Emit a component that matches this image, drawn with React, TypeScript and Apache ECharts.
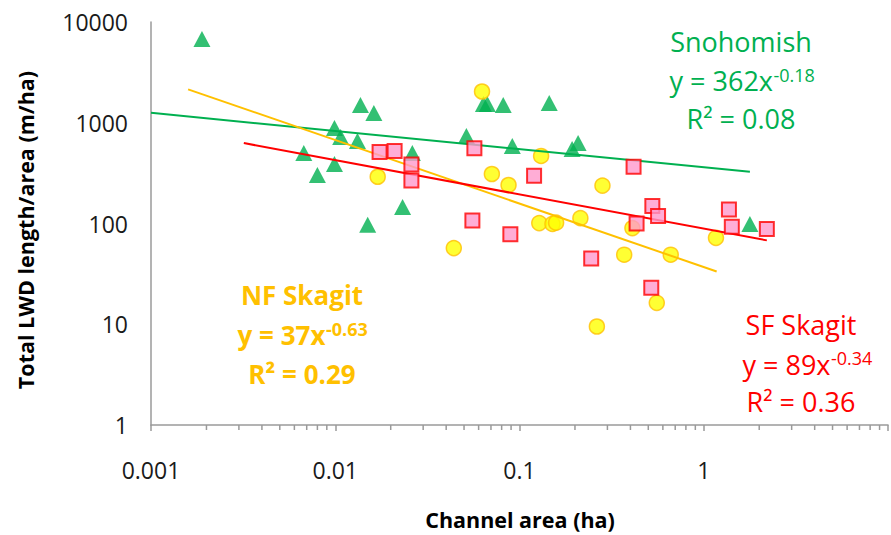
import React, { useEffect, useRef } from 'react';
import * as echarts from 'echarts';

// Snohomish (green triangles)
const snohomishX = [0.00189, 0.0137, 0.0162, 0.0099, 0.0107, 0.0132, 0.00675, 0.0099, 0.008, 0.0262, 0.0232, 0.015, 0.0637, 0.0669, 0.0816, 0.145, 0.0515, 0.0914, 0.193, 0.208, 1.78];
const snohomishY = [6780, 1500, 1250, 887, 722, 659, 501, 390, 303, 501, 146, 97, 1535, 1535, 1500, 1570, 739, 588, 549, 630, 99];

// SF Skagit (pink squares)
const sfX = [0.0174, 0.021, 0.0259, 0.0259, 0.0569, 0.0555, 0.0892, 0.12, 0.416, 0.245, 0.432, 0.526, 0.565, 0.519, 1.37, 1.42, 2.2];
const sfY = [512, 524, 385, 267, 558, 107, 78, 298, 366, 45, 100, 149, 119, 23, 138, 93, 88];

// NF Skagit (yellow circles)
const nfX = [0.017, 0.0626, 0.0708, 0.0872, 0.131, 0.282, 0.044, 0.128, 0.151, 0.158, 0.214, 0.37, 0.41, 0.662, 0.556, 0.263, 1.165];
const nfY = [291, 2043, 310, 241, 468, 238, 57, 101, 99, 102, 113, 49, 90, 49, 16.3, 9.5, 72];

// Power-law trendline end points
const snohomishTrendX = [0.001, 1.78];
const snohomishTrendY = [1255, 326];
const sfTrendX = [0.00319, 2.2];
const sfTrendY = [628, 68];
const nfTrendX = [0.00159, 1.175];
const nfTrendY = [2145, 33.4];

// Axis tick labels
const xTickText = ['0.001', '0.01', '0.1', '1', ''];
const yTickText = ['1', '10', '100', '1000', '10000'];
const xDecades = [0.001, 0.01, 0.1, 1];
const minorMultipliers = [2, 3, 4, 5, 6, 7, 8, 9];

const xTitle = 'Channel area (ha)';
const yTitle = 'Total LWD length/area (m/ha)';

const pairs = (xs: number[], ys: number[]) => xs.map((x, i) => [x, ys[i]]);

const FONT = '"Open Sans", "Noto Sans", sans-serif';
const GREEN = '#00B050';
const RED = '#FF0000';
const ORANGE = '#FFC000';

function txt(text: string, x: number, y: number, color: string, size: number, bold: boolean, align: string) {
  return {
    type: 'text',
    x,
    y,
    z: 100,
    style: {
      text,
      fill: color,
      fontSize: size,
      fontFamily: FONT,
      fontWeight: bold ? 'bold' : 'normal',
      align,
      verticalAlign: 'middle',
    },
  };
}

export default function App() {
  const ref = useRef<HTMLDivElement>(null);
  useEffect(() => {
    const chart = echarts.init(ref.current!, null, { renderer: 'svg' });
    const minorTicks: number[][] = [];
    xDecades.forEach((d) => minorMultipliers.forEach((m) => minorTicks.push([d * m, 1])));

    const option = {
      animation: false,
      grid: { left: 151, top: 22, right: 1.5, bottom: 110, containLabel: false },
      xAxis: {
        type: 'log',
        logBase: 10,
        min: 0.001,
        max: 10,
        axisLine: { show: true, lineStyle: { color: '#9a9a9a', width: 1.5 } },
        axisTick: { show: true, length: 6, lineStyle: { color: '#9a9a9a', width: 1.5 } },
        splitLine: { show: false },
        axisLabel: {
          margin: 33,
          fontSize: 23,
          fontFamily: FONT,
          color: '#1a1a1a',
          formatter: (v: number) => {
            const e = Math.round(Math.log10(v));
            return xTickText[e + 3] ?? '';
          },
        },
      },
      yAxis: {
        type: 'log',
        logBase: 10,
        min: 1,
        max: 10000,
        axisLine: { show: true, lineStyle: { color: '#9a9a9a', width: 1.5 } },
        axisTick: { show: false },
        splitLine: { show: false },
        axisLabel: {
          margin: 23,
          fontSize: 23,
          fontFamily: FONT,
          color: '#1a1a1a',
          formatter: (v: number) => {
            const e = Math.round(Math.log10(v));
            return yTickText[e] ?? '';
          },
        },
      },
      series: [
        {
          type: 'custom',
          clip: false,
          silent: true,
          data: minorTicks,
          renderItem: (_p: any, api: any) => {
            const pt = api.coord([api.value(0), api.value(1)]);
            return {
              type: 'line',
              shape: { x1: pt[0], y1: pt[1], x2: pt[0], y2: pt[1] + 5 },
              style: { stroke: '#9a9a9a', lineWidth: 1.5 },
            };
          },
          z: 1,
        },
        {
          name: 'Snohomish',
          type: 'scatter',
          data: pairs(snohomishX, snohomishY),
          symbol: 'triangle',
          symbolSize: [17, 16],
          itemStyle: { color: GREEN },
          z: 2,
        },
        {
          name: 'NF Skagit',
          type: 'scatter',
          data: pairs(nfX, nfY),
          symbol: 'circle',
          symbolSize: 15,
          itemStyle: { color: '#FFFF00', borderColor: ORANGE, borderWidth: 1.5 },
          z: 3,
        },
        {
          name: 'Snohomish trend',
          type: 'line',
          data: pairs(snohomishTrendX, snohomishTrendY),
          showSymbol: false,
          symbol: 'none',
          lineStyle: { color: GREEN, width: 2 },
          z: 4,
        },
        {
          name: 'NF Skagit trend',
          type: 'line',
          data: pairs(nfTrendX, nfTrendY),
          showSymbol: false,
          symbol: 'none',
          lineStyle: { color: ORANGE, width: 2 },
          z: 4,
        },
        {
          name: 'SF Skagit trend',
          type: 'line',
          data: pairs(sfTrendX, sfTrendY),
          showSymbol: false,
          symbol: 'none',
          lineStyle: { color: RED, width: 2 },
          z: 4,
        },
        {
          name: 'SF Skagit',
          type: 'scatter',
          data: pairs(sfX, sfY),
          symbol: 'rect',
          symbolSize: 14,
          itemStyle: { color: '#FF99CC', borderColor: RED, borderWidth: 2 },
          z: 5,
        },
      ],
      graphic: [
        // Snohomish annotation
        txt('Snohomish', 741, 41.5, GREEN, 27, false, 'center'),
        txt('y = 362x', 773, 80.5, GREEN, 27, false, 'right'),
        txt('-0.18', 773.5, 74.7, GREEN, 18, false, 'left'),
        txt('R² = 0.08', 741, 118.5, GREEN, 27, false, 'center'),
        // NF Skagit annotation
        txt('NF Skagit', 302, 295, ORANGE, 26, true, 'center'),
        txt('y = 37x', 325.5, 334.5, ORANGE, 26, true, 'right'),
        txt('-0.63', 326, 328.5, ORANGE, 18, true, 'left'),
        txt('R² = 0.29', 302, 374, ORANGE, 26, true, 'center'),
        // SF Skagit annotation
        txt('SF Skagit', 801, 324.5, RED, 27, false, 'center'),
        txt('y = 89x', 830.5, 364.5, RED, 27, false, 'right'),
        txt('-0.34', 831, 358, RED, 18, false, 'left'),
        txt('R² = 0.36', 801, 401.5, RED, 27, false, 'center'),
        // Axis titles
        txt(xTitle, 520, 519, '#000000', 21.5, true, 'center'),
        {
          type: 'text',
          x: 25,
          y: 230,
          rotation: Math.PI / 2,
          z: 100,
          style: {
            text: yTitle,
            fill: '#000000',
            fontSize: 21.5,
            fontFamily: FONT,
            fontWeight: 'bold',
            align: 'center',
            verticalAlign: 'middle',
          },
        },
      ],
    };
    chart.setOption(option as any);
    return () => chart.dispose();
  }, []);
  return <div ref={ref} style={{ position: 'absolute', left: 0, top: 0, width: 891, height: 535 }} />;
}
